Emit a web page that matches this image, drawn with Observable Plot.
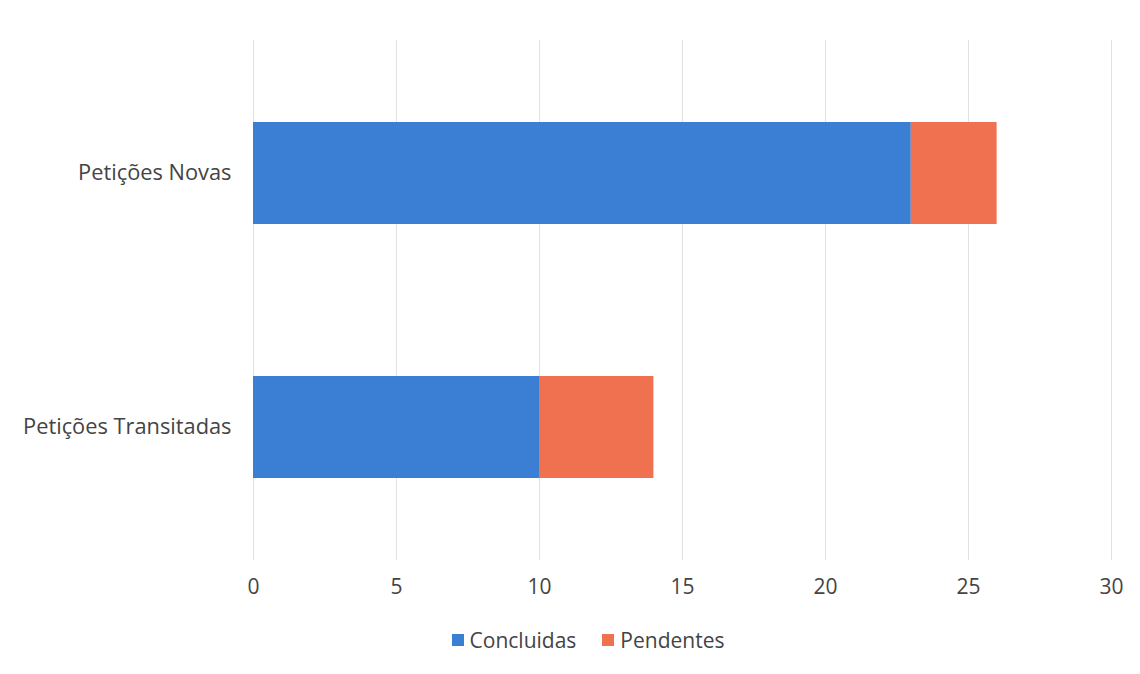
<!DOCTYPE html>
<html><head><meta charset="utf-8">
<script src="https://cdn.jsdelivr.net/npm/d3@7"></script>
<script src="https://cdn.jsdelivr.net/npm/@observablehq/plot@0.6"></script>
<style>
body{margin:0;background:#fff;font-family:"Open Sans",sans-serif;}
#legend{display:flex;justify-content:center;gap:26px;font-size:21px;color:#444;margin-left:36px;margin-top:16px;font-family:"Open Sans",sans-serif}
#legend span.sw{display:inline-block;width:12px;height:12px;margin-right:6px;vertical-align:middle;position:relative;top:-2px}
</style></head>
<body><div id="chart"></div><div id="legend"></div>
<script>
const categories = ["Petições Novas", "Petições Transitadas"];
const series = ["Concluidas", "Pendentes"];
const concluidas = [23, 10];
const pendentes = [3, 4];
const colors = ["#3a7fd4", "#ef7150"];
const xTicks = [0, 5, 10, 15, 20, 25, 30];

const data = [];
categories.forEach((c, i) => {
  data.push({cat: c, series: series[0], value: concluidas[i]});
  data.push({cat: c, series: series[1], value: pendentes[i]});
});

const plot = Plot.plot({
  width: 1140, height: 610,
  marginLeft: 253, marginRight: 29, marginTop: 40, marginBottom: 50,
  style: {fontFamily: "'Open Sans', sans-serif", fontSize: "21px", color: "#444"},
  x: {domain: [0, 30], ticks: xTicks, grid: false, label: null},
  y: {domain: categories, paddingInner: 0.6, paddingOuter: 0.32, label: null},
  color: {domain: series, range: colors},
  marks: [
    Plot.ruleX(xTicks, {stroke: "#e2e2e2", strokeWidth: 1}),
    Plot.axisX({ticks: xTicks, tickSize: 0, tickPadding: 19, label: null, fontSize: 21}),
    Plot.axisY({tickSize: 0, tickPadding: 22, label: null, fontSize: 21.8}),
    Plot.barX(data, Plot.stackX({y: "cat", x: "value", fill: "series", order: series}))
  ]
});
document.getElementById("chart").appendChild(plot);
const leg = document.getElementById("legend");
series.forEach((s, i) => {
  const d = document.createElement("div");
  d.innerHTML = `<span class="sw" style="background:${colors[i]}"></span>${s}`;
  leg.appendChild(d);
});
</script></body></html>
